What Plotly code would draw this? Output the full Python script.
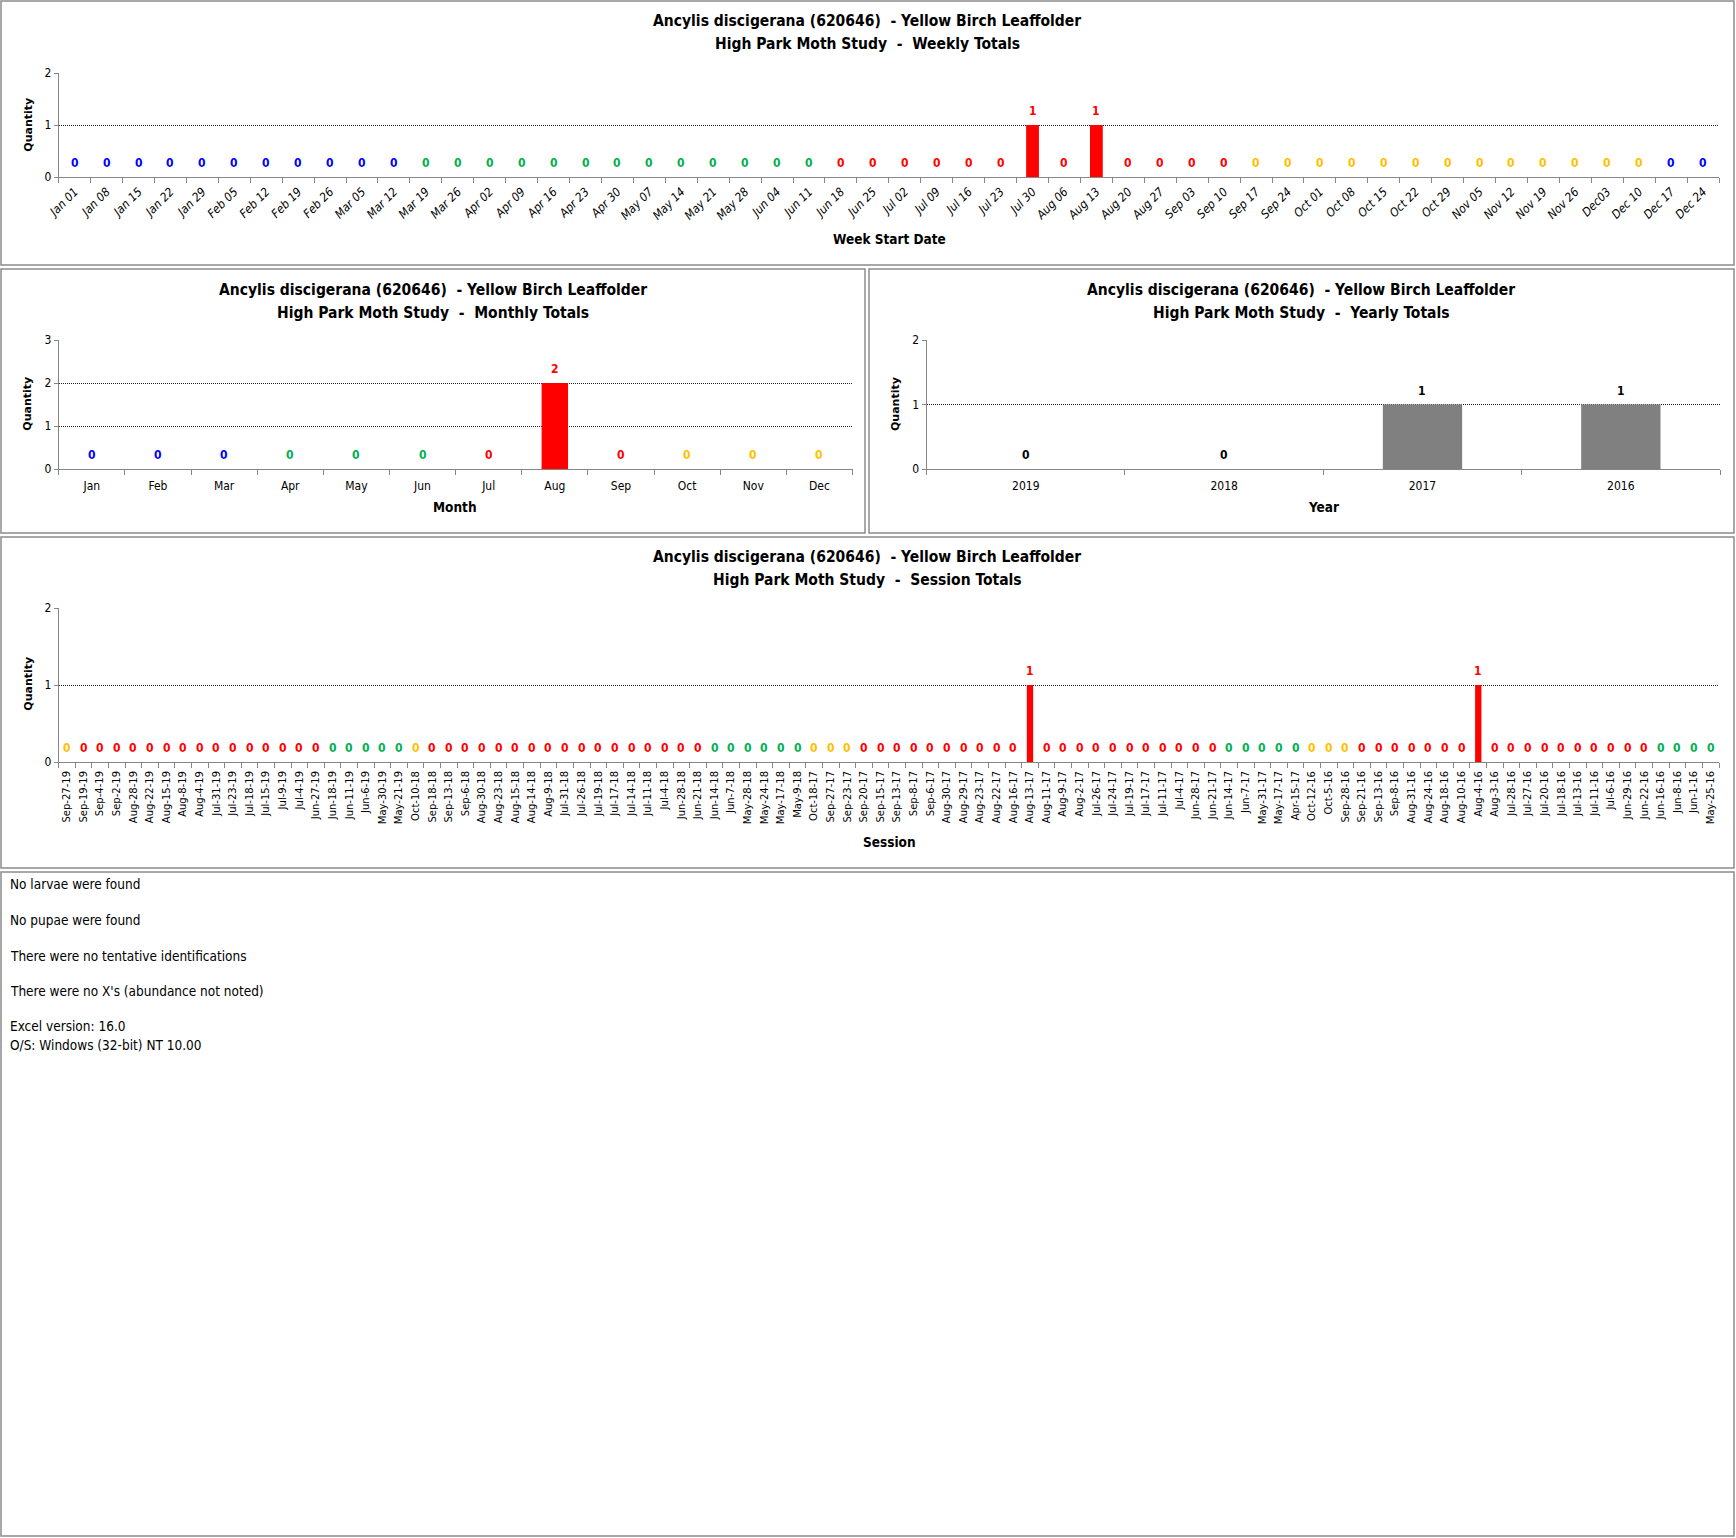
import plotly.graph_objects as go

# ---------------- data ----------------
SPECIES = "Ancylis discigerana (620646)  - Yellow Birch Leaffolder"
STUDY = "High Park Moth Study"

week_labels = ["Jan 01", "Jan 08", "Jan 15", "Jan 22", "Jan 29",
               "Feb 05", "Feb 12", "Feb 19", "Feb 26",
               "Mar 05", "Mar 12", "Mar 19", "Mar 26",
               "Apr 02", "Apr 09", "Apr 16", "Apr 23", "Apr 30",
               "May 07", "May 14", "May 21", "May 28",
               "Jun 04", "Jun 11", "Jun 18", "Jun 25",
               "Jul 02", "Jul 09", "Jul 16", "Jul 23", "Jul 30",
               "Aug 06", "Aug 13", "Aug 20", "Aug 27",
               "Sep 03", "Sep 10", "Sep 17", "Sep 24",
               "Oct 01", "Oct 08", "Oct 15", "Oct 22", "Oct 29",
               "Nov 05", "Nov 12", "Nov 19", "Nov 26",
               "Dec03", "Dec 10", "Dec 17", "Dec 24"]
week_counts = [0, 0, 0, 0, 0,
               0, 0, 0, 0,
               0, 0, 0, 0,
               0, 0, 0, 0, 0,
               0, 0, 0, 0,
               0, 0, 0, 0,
               0, 0, 0, 0, 1,
               0, 1, 0, 0,
               0, 0, 0, 0,
               0, 0, 0, 0, 0,
               0, 0, 0, 0,
               0, 0, 0, 0]
week_season = "BBBBBBBBBBBGGGGGGGGGGGGGRRRRRRRRRRRRRYYYYYYYYYYYYYBB"

month_labels = ["Jan", "Feb", "Mar", "Apr", "May", "Jun",
                "Jul", "Aug", "Sep", "Oct", "Nov", "Dec"]
month_counts = [0, 0, 0, 0, 0, 0, 0, 2, 0, 0, 0, 0]
month_season = "BBBGGGRRRYYY"

year_labels = ["2019", "2018", "2017", "2016"]
year_counts = [0, 0, 1, 1]

session_labels = [
    # 2019
    "Sep-27-19", "Sep-19-19", "Sep-4-19", "Sep-2-19", "Aug-28-19", "Aug-22-19",
    "Aug-15-19", "Aug-8-19", "Aug-4-19", "Jul-31-19", "Jul-23-19", "Jul-18-19",
    "Jul-15-19", "Jul-9-19", "Jul-4-19", "Jun-27-19", "Jun-18-19", "Jun-11-19",
    "Jun-6-19", "May-30-19", "May-21-19",
    # 2018
    "Oct-10-18", "Sep-18-18", "Sep-13-18", "Sep-6-18", "Aug-30-18", "Aug-23-18",
    "Aug-15-18", "Aug-14-18", "Aug-9-18", "Jul-31-18", "Jul-26-18", "Jul-19-18",
    "Jul-17-18", "Jul-14-18", "Jul-11-18", "Jul-4-18", "Jun-28-18", "Jun-21-18",
    "Jun-14-18", "Jun-7-18", "May-28-18", "May-24-18", "May-17-18", "May-9-18",
    # 2017
    "Oct-18-17", "Sep-27-17", "Sep-23-17", "Sep-20-17", "Sep-15-17", "Sep-13-17",
    "Sep-8-17", "Sep-6-17", "Aug-30-17", "Aug-29-17", "Aug-23-17", "Aug-22-17",
    "Aug-16-17", "Aug-13-17", "Aug-11-17", "Aug-9-17", "Aug-2-17", "Jul-26-17",
    "Jul-24-17", "Jul-19-17", "Jul-17-17", "Jul-11-17", "Jul-4-17", "Jun-28-17",
    "Jun-21-17", "Jun-14-17", "Jun-7-17", "May-31-17", "May-17-17", "Apr-15-17",
    # 2016
    "Oct-12-16", "Oct-5-16", "Sep-28-16", "Sep-21-16", "Sep-13-16", "Sep-8-16",
    "Aug-31-16", "Aug-24-16", "Aug-18-16", "Aug-10-16", "Aug-4-16", "Aug-3-16",
    "Jul-28-16", "Jul-27-16", "Jul-20-16", "Jul-18-16", "Jul-13-16", "Jul-11-16",
    "Jul-6-16", "Jun-29-16", "Jun-22-16", "Jun-16-16", "Jun-8-16", "Jun-1-16",
    "May-25-16"]
session_counts = [
    # 2019
    0, 0, 0, 0, 0, 0, 0, 0, 0, 0, 0, 0, 0, 0, 0, 0, 0, 0, 0, 0, 0,
    # 2018
    0, 0, 0, 0, 0, 0, 0, 0, 0, 0, 0, 0, 0, 0, 0, 0, 0, 0, 0, 0, 0, 0, 0, 0,
    # 2017
    0, 0, 0, 0, 0, 0, 0, 0, 0, 0, 0, 0, 0, 1, 0, 0, 0, 0, 0, 0, 0, 0, 0, 0,
    0, 0, 0, 0, 0, 0,
    # 2016
    0, 0, 0, 0, 0, 0, 0, 0, 0, 0, 1, 0, 0, 0, 0, 0, 0, 0, 0, 0, 0, 0, 0, 0, 0]
session_season = ("YRRRRRRRRRRRRRRRGGGGG"
                  "YRRRRRRRRRRRRRRRRRGGGGGG"
                  "YYYRRRRRRRRRRRRRRRRRRRRRRGGGGG"
                  "YYYRRRRRRRRRRRRRRRRRRGGGG")

footer_lines = ["No larvae were found",
                "No pupae were found",
                "There were no tentative identifications",
                "There were no X's (abundance not noted)",
                "Excel version: 16.0",
                "O/S: Windows (32-bit) NT 10.00"]

# ---------------- styling ----------------
W, H = 1736, 1538
SEASON_COLORS = {"B": "#0000FF", "G": "#00B050", "R": "#FF0000", "Y": "#FFC000"}
BAR_RED = "#FF0000"
BAR_GRAY = "#808080"
AXIS = "#868686"
BORDER = "#8C8C8C"
NARROW = "Liberation Sans Narrow, Arial Narrow, DejaVu Sans Condensed, sans-serif"
WIDE = "DejaVu Sans, Verdana, sans-serif"


def px(x):
    return x / W


def py(y):
    return 1 - y / H


fig = go.Figure()

panels = [
    dict(key="", labels=week_labels, counts=week_counts,
         colors=[SEASON_COLORS[c] for c in week_season], bar=BAR_RED,
         xr=(58.7, 1719), yr=(73, 177), ymax=2, width=0.4),
    dict(key="2", labels=month_labels, counts=month_counts,
         colors=[SEASON_COLORS[c] for c in month_season], bar=BAR_RED,
         xr=(58.7, 852.5), yr=(340, 469), ymax=3, width=0.4),
    dict(key="3", labels=year_labels, counts=year_counts,
         colors=["#000000"] * len(year_labels), bar=BAR_GRAY,
         xr=(926.6, 1720), yr=(340, 469), ymax=2, width=0.4),
    dict(key="4", labels=session_labels, counts=session_counts,
         colors=[SEASON_COLORS[c] for c in session_season], bar=BAR_RED,
         xr=(58.7, 1719), yr=(608, 762), ymax=2, width=0.38),
]

annotations = []
for p in panels:
    k = p["key"]
    fig.add_trace(go.Bar(x=p["labels"], y=p["counts"], marker_color=p["bar"],
                         marker_line_width=0, width=p["width"],
                         xaxis="x" + k, yaxis="y" + k, hoverinfo="skip"))
    for i, (v, c) in enumerate(zip(p["counts"], p["colors"])):
        # x given as the category index on the category axis
        annotations.append(dict(x=i, y=v, xref="x" + k, yref="y" + k, text=str(v),
                                showarrow=False, yshift=14, yanchor="middle",
                                font=dict(family=NARROW, size=12, color=c, weight="bold")))

tick_fonts = {
    "": dict(family=NARROW, size=12, color="#000", style="italic"),
    "2": dict(family=NARROW, size=12, color="#000"),
    "3": dict(family=NARROW, size=12, color="#000"),
    "4": dict(family=WIDE, size=10, color="#000"),
}
tick_angles = {"": -45, "2": 0, "3": 0, "4": -90}
tick_standoff = {"": 2, "2": 6, "3": 6, "4": 4}

layout_axes = {}
for p in panels:
    k = p["key"]
    n = len(p["labels"])
    layout_axes["xaxis" + k] = dict(
        domain=[px(p["xr"][0]), px(p["xr"][1])], anchor="y" + k, type="category",
        categoryorder="array", categoryarray=p["labels"],
        range=[-0.5, n - 0.5], autorange=False,
        showline=True, linecolor=AXIS, linewidth=1, ticks="outside", ticklen=5,
        tickcolor=AXIS, tickson="boundaries", showgrid=False, zeroline=False,
        tickmode="linear", tick0=0, dtick=1, tickangle=tick_angles[k],
        ticklabelstandoff=tick_standoff[k],
        tickfont=tick_fonts[k], fixedrange=True, automargin=False)
    layout_axes["yaxis" + k] = dict(
        domain=[py(p["yr"][1]), py(p["yr"][0])], anchor="x" + k,
        range=[0, p["ymax"]], autorange=False, tickmode="linear", tick0=0, dtick=1,
        showline=True, linecolor=AXIS, linewidth=1, ticks="outside", ticklen=4,
        tickcolor=AXIS, showgrid=True, gridcolor="#222222", griddash="1px,1px",
        gridwidth=1, zeroline=False, tickfont=dict(family=NARROW, size=12, color="#000"),
        fixedrange=True, automargin=False)

# titles
titles = [
    (867, 21, 44, "Weekly Totals"),
    (433, 290, 313, "Monthly Totals"),
    (1301, 290, 313, "Yearly Totals"),
    (867, 557, 580, "Session Totals"),
]
for cx, y1, y2, kind in titles:
    annotations.append(dict(x=px(cx), y=py(y1), xref="paper", yref="paper", text=SPECIES,
                            showarrow=False, xanchor="center", yanchor="middle",
                            font=dict(family=NARROW, size=15.5, color="#000", weight="bold")))
    annotations.append(dict(x=px(cx), y=py(y2), xref="paper", yref="paper",
                            text=STUDY + "  -  " + kind,
                            showarrow=False, xanchor="center", yanchor="middle",
                            font=dict(family=NARROW, size=15.5, color="#000", weight="bold")))

# axis titles
xtitles = [(889, 239, "Week Start Date"), (455, 507, "Month"),
           (1323, 507, "Year"), (889, 842, "Session")]
for cx, cy, t in xtitles:
    annotations.append(dict(x=px(cx), y=py(cy), xref="paper", yref="paper", text=t,
                            showarrow=False, xanchor="center", yanchor="middle",
                            font=dict(family=NARROW, size=13.5, color="#000", weight="bold")))
ytitles = [(27.7, 125), (27.7, 404), (896, 404), (27.7, 684)]
for cx, cy in ytitles:
    annotations.append(dict(x=px(cx), y=py(cy), xref="paper", yref="paper", text="Quantity",
                            showarrow=False, xanchor="center", yanchor="middle", textangle=-90,
                            font=dict(family=WIDE, size=11, color="#000", weight="bold")))

# footer
footer_y = [883.5, 920, 955.5, 991, 1026, 1045]
for t, yy in zip(footer_lines, footer_y):
    annotations.append(dict(x=px(8), y=py(yy), xref="paper", yref="paper", text=t,
                            showarrow=False, xanchor="left", yanchor="middle",
                            font=dict(family=NARROW, size=13.5, color="#000")))

# panel borders
shapes = []
for x0, y0, x1, y1 in [(1, 1, 1734, 265), (1, 269, 865, 533), (869, 269, 1734, 533),
                       (1, 537, 1734, 868), (1, 872, 1734, 1536)]:
    shapes.append(dict(type="rect", xref="paper", yref="paper",
                       x0=px(x0), x1=px(x1), y0=py(y0), y1=py(y1),
                       line=dict(color=BORDER, width=1.5), fillcolor="rgba(0,0,0,0)",
                       layer="above"))

fig.update_layout(width=W, height=H, margin=dict(l=0, r=0, t=0, b=0),
                  paper_bgcolor="white", plot_bgcolor="white", showlegend=False,
                  bargap=0.6, annotations=annotations, shapes=shapes, **layout_axes)

fig.write_html("out.html", config={"displayModeBar": False},
               post_script="document.body.style.margin='0px';document.body.style.overflow='hidden';")
